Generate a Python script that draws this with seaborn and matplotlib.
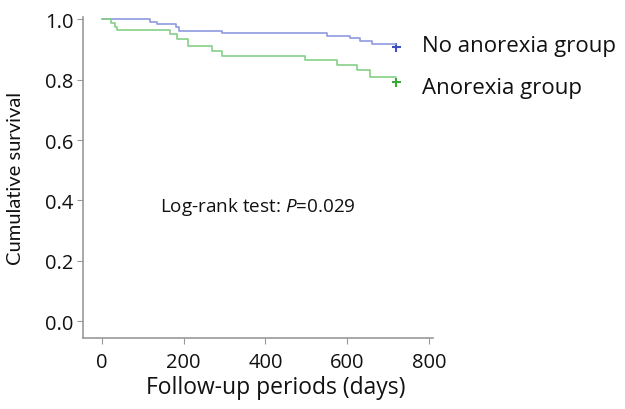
import pandas as pd
import matplotlib
matplotlib.use("Agg")
import matplotlib.pyplot as plt
import seaborn as sns

# step points
no_anorexia_days = [0, 117, 134, 181, 189, 293, 550, 607, 632, 660, 720]
no_anorexia_surv = [1.0, 0.993, 0.985, 0.974, 0.963, 0.955, 0.946, 0.937, 0.930, 0.919, 0.919]
anorexia_days = [0, 21, 32, 36, 166, 184, 211, 268, 293, 497, 574, 623, 656, 720]
anorexia_surv = [1.0, 0.988, 0.974, 0.966, 0.952, 0.935, 0.913, 0.897, 0.878, 0.864, 0.848, 0.831, 0.809, 0.809]
censor_day = [720, 720]
censor_surv = [0.908, 0.792]
groups = ["No anorexia group", "Anorexia group"]

x_ticks = [0, 200, 400, 600, 800]
y_ticks = [0.0, 0.2, 0.4, 0.6, 0.8, 1.0]

df = pd.concat([
    pd.DataFrame({"day": no_anorexia_days, "surv": no_anorexia_surv, "group": groups[0]}),
    pd.DataFrame({"day": anorexia_days, "surv": anorexia_surv, "group": groups[1]}),
])
cens = pd.DataFrame({"day": censor_day, "surv": censor_surv, "group": groups})

sns.set_style("white")
plt.rcParams["font.family"] = ["Open Sans", "DejaVu Sans"]
plt.rcParams["mathtext.fontset"] = "custom"
plt.rcParams["mathtext.it"] = "Open Sans:italic"
plt.rcParams["mathtext.rm"] = "Open Sans"
plt.rcParams["text.color"] = "#111111"
plt.rcParams["axes.labelcolor"] = "#111111"
plt.rcParams["xtick.labelcolor"] = "#111111"
plt.rcParams["ytick.labelcolor"] = "#111111"

line_cols = {groups[0]: "#8d9be0", groups[1]: "#86d086"}
mark_cols = {groups[0]: "#3b4fc0", groups[1]: "#3aa83a"}

fig = plt.figure(figsize=(6.25, 4.1), dpi=100)
ax = fig.add_axes([0.133, 0.173, 0.56, 0.783])

sns.lineplot(data=df, x="day", y="surv", hue="group", palette=line_cols,
             drawstyle="steps-post", estimator=None, linewidth=1.2,
             legend=False, ax=ax)
sns.scatterplot(data=cens, x="day", y="surv", hue="group", palette=mark_cols,
                marker="+", s=40, linewidth=1.5, legend=False, ax=ax)

ax.set_xlim(-46, 810)
ax.set_ylim(-0.056, 1.008)
ax.set_xticks(x_ticks)
ax.set_yticks(y_ticks)
ax.set_yticklabels([f"{v:.1f}" for v in y_ticks])
ax.tick_params(axis="both", length=4, color="#999999", labelsize=14.5,
               direction="out", left=True, bottom=True, pad=3)
ax.tick_params(axis="x", pad=6)
for side in ["top", "right"]:
    ax.spines[side].set_visible(False)
for side in ["left", "bottom"]:
    ax.spines[side].set_color("#999999")
    ax.spines[side].set_linewidth(1.2)

ax.set_xlabel("Follow-up periods (days)", fontsize=16.5, labelpad=2)
ax.xaxis.label.set_x(0.549)
ax.set_ylabel("Cumulative survival", fontsize=14.5, family=["Lato", "DejaVu Sans"],
              labelpad=15)

ax.text(142, 0.381, "Log-rank test: $P$=0.029", fontsize=13.6,
        va="center", ha="left")
ax.text(783, 0.915, groups[0], fontsize=16, va="center", ha="left", clip_on=False)
ax.text(783, 0.773, groups[1], fontsize=16, va="center", ha="left", clip_on=False)

fig.savefig("out.png", dpi=100)
